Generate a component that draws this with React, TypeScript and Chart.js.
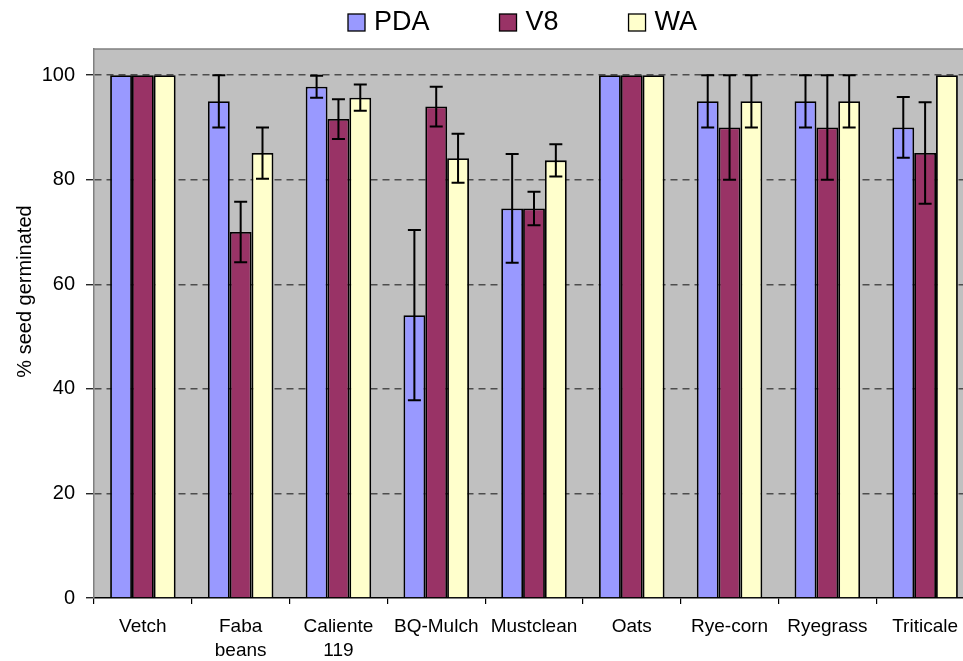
import React, { useEffect, useRef } from 'react';
import { Chart, registerables } from 'chart.js';

Chart.register(...registerables);

const categories: (string | string[])[] = [
  'Vetch',
  ['Faba', 'beans'],
  ['Caliente', '119'],
  'BQ-Mulch',
  'Mustclean',
  'Oats',
  'Rye-corn',
  'Ryegrass',
  'Triticale',
];

const seriesNames = ['PDA', 'V8', 'WA'];
const seriesColors = ['#9999ff', '#993366', '#ffffcc'];

const pdaValues = [100, 95, 97.8, 54.1, 74.5, 100, 95, 95, 90];
const v8Values = [100, 70, 91.6, 94, 74.5, 100, 90, 90, 85.1];
const waValues = [100, 85.1, 95.7, 84.1, 83.7, 100, 95, 95, 100];

const pdaErrors = [0, 5, 2.1, 16.3, 10.4, 0, 5, 5, 5.8];
const v8Errors = [0, 5.8, 3.8, 3.8, 3.2, 0, 10, 10, 9.7];
const waErrors = [0, 4.9, 2.5, 4.7, 3.1, 0, 5, 5, 0];

const yTickValues = [0, 20, 40, 60, 80, 100];
const yAxisTitle = '% seed germinated';

const FONT = '"Liberation Sans", Arial, sans-serif';

const bgPlugin = {
  id: 'plotBg',
  beforeDraw(chart: any) {
    const { ctx, chartArea: a } = chart;
    ctx.save();
    ctx.fillStyle = '#c0c0c0';
    ctx.fillRect(a.left, a.top, a.right - a.left, a.bottom - a.top);
    ctx.restore();
  },
  afterDraw(chart: any) {
    const { ctx, chartArea: a } = chart;
    ctx.save();
    ctx.strokeStyle = '#808080';
    ctx.lineWidth = 1.5;
    ctx.beginPath();
    ctx.moveTo(a.left, a.top);
    ctx.lineTo(a.right, a.top);
    ctx.lineTo(a.right, a.bottom);
    ctx.stroke();
    ctx.restore();
  },
};

const errorBarPlugin = {
  id: 'errorBars',
  afterDatasetsDraw(chart: any) {
    const { ctx } = chart;
    const yScale = chart.scales.y;
    chart.data.datasets.forEach((ds: any, i: number) => {
      const meta = chart.getDatasetMeta(i);
      meta.data.forEach((bar: any, j: number) => {
        const e = ds.errors[j];
        if (!e) return;
        const v = ds.data[j];
        const yT = yScale.getPixelForValue(v + e);
        const yB = yScale.getPixelForValue(v - e);
        const cap = 6.5;
        ctx.save();
        ctx.strokeStyle = '#000';
        ctx.lineWidth = 2;
        ctx.beginPath();
        ctx.moveTo(bar.x, yT);
        ctx.lineTo(bar.x, yB);
        ctx.moveTo(bar.x - cap, yT);
        ctx.lineTo(bar.x + cap, yT);
        ctx.moveTo(bar.x - cap, yB);
        ctx.lineTo(bar.x + cap, yB);
        ctx.stroke();
        ctx.restore();
      });
    });
  },
};

const legendPlugin = {
  id: 'customLegend',
  afterDraw(chart: any) {
    const { ctx } = chart;
    ctx.save();
    ctx.font = `27px ${FONT}`;
    ctx.textBaseline = 'middle';
    ctx.textAlign = 'left';
    let x = 348;
    const box = 17;
    const yMid = 22.5;
    chart.data.datasets.forEach((ds: any) => {
      ctx.fillStyle = ds.backgroundColor;
      ctx.fillRect(x, yMid - box / 2, box, box);
      ctx.strokeStyle = '#000';
      ctx.lineWidth = 1.3;
      ctx.strokeRect(x, yMid - box / 2, box, box);
      ctx.fillStyle = '#000';
      ctx.fillText(ds.label, x + box + 9, yMid);
      x += box + 9 + ctx.measureText(ds.label).width + 70;
    });
    ctx.restore();
  },
};

const yTitlePlugin = {
  id: 'yTitle',
  afterDraw(chart: any) {
    const { ctx } = chart;
    ctx.save();
    ctx.translate(25, 291.5);
    ctx.rotate(-Math.PI / 2);
    ctx.font = `20px ${FONT}`;
    ctx.fillStyle = '#000';
    ctx.textAlign = 'center';
    ctx.textBaseline = 'middle';
    ctx.fillText(yAxisTitle, 0, 0);
    ctx.restore();
  },
};

export default function App() {
  const ref = useRef<HTMLCanvasElement | null>(null);

  useEffect(() => {
    if (!ref.current) return;
    const values = [pdaValues, v8Values, waValues];
    const errors = [pdaErrors, v8Errors, waErrors];
    const chart = new Chart(ref.current, {
      type: 'bar',
      data: {
        labels: categories,
        datasets: seriesNames.map((name, i) => ({
          label: name,
          data: values[i],
          errors: errors[i],
          backgroundColor: seriesColors[i],
          borderColor: '#000',
          borderWidth: 1.8,
          barPercentage: 1.0,
          categoryPercentage: 0.67,
        })) as any,
      },
      options: {
        responsive: false,
        animation: false,
        devicePixelRatio: 1,
        layout: { padding: { top: 49, right: 2, left: 0, bottom: 0 } },
        plugins: {
          legend: { display: false },
          title: { display: false },
          tooltip: { enabled: false },
        },
        scales: {
          x: {
            offset: true,
            grid: {
              offset: true,
              drawOnChartArea: false,
              drawTicks: true,
              tickLength: 6,
              tickColor: '#000',
              lineWidth: 1.2,
            },
            border: { color: '#000', width: 1.5 },
            ticks: {
              color: '#000',
              padding: 10,
              maxRotation: 0,
              autoSkip: false,
              font: { family: FONT, size: 19, lineHeight: 1.3 },
            },
            afterFit: (s: any) => {
              s.height = 63;
            },
          },
          y: {
            min: 0,
            max: 105,
            afterBuildTicks: (axis: any) => {
              axis.ticks = yTickValues.map((v) => ({ value: v }));
            },
            grid: {
              color: (c: any) => (c.tick && c.tick.value === 0 ? 'rgba(0,0,0,0)' : '#4d4d4d'),
              lineWidth: 1.5,
              tickColor: '#000',
              tickLength: 8,
              tickWidth: 1.2,
            },
            border: { color: '#808080', width: 1.5, dash: [7, 5] },
            ticks: {
              color: '#000',
              padding: 11,
              font: { family: FONT, size: 20 },
            },
            afterFit: (s: any) => {
              s.width = 94;
            },
          },
        },
      },
      plugins: [bgPlugin, errorBarPlugin, legendPlugin, yTitlePlugin],
    } as any);
    return () => chart.destroy();
  }, []);

  return (
    <div
      style={{
        position: 'fixed',
        left: 0,
        top: 0,
        width: 963,
        height: 661,
        overflow: 'hidden',
        background: '#fff',
      }}
    >
      <canvas ref={ref} width={976} height={661} style={{ display: 'block' }} />
    </div>
  );
}
